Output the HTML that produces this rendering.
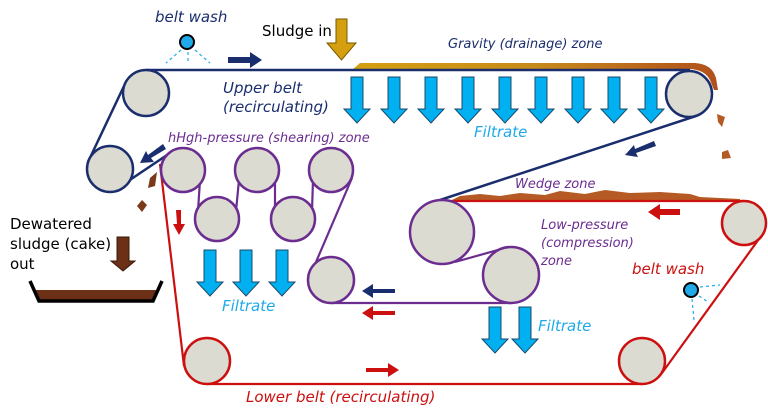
<!DOCTYPE html>
<html><head><meta charset="utf-8"><style>
html,body{margin:0;padding:0;background:#fff;}
svg{display:block}
text{font-family:"DejaVu Sans","Liberation Sans",sans-serif;}
.it{font-style:italic}
</style></head><body>
<svg width="768" height="416" viewBox="0 0 768 416" xmlns="http://www.w3.org/2000/svg">
<defs>
<linearGradient id="sl" x1="0" x2="1" y1="0" y2="0">
<stop offset="0" stop-color="#d4a010"/><stop offset="0.5" stop-color="#c88a1a"/><stop offset="1" stop-color="#b0501c"/>
</linearGradient>
<g id="fa"><path d="M-6,0 h12 v32 h7 l-13,14 l-13,-14 h7 z" fill="#00b0f0" stroke="#1a4a6a" stroke-width="1"/></g>
</defs>

<path d="M352,70 L360,63 L695,63 Q712,64 716,78 L718,90 L714,90 L710,80 Q705,70 690,69 Z" fill="url(#sl)"/>
<path d="M450,201 L460,196 L480,194 L500,196 L520,193 L545,195 L560,191 L585,194 L605,190 L630,193 L660,192 L690,194 L700,197 L740,199 L740,201 Z" fill="#b55a24"/>
<path d="M717,114 L725,117 L722,127 L718,122 Z" fill="#b55a24"/>
<path d="M722,152 L728,150 L731,158 L722,159 Z" fill="#b55a24"/>
<path d="M150,178 L157,172 L155,186 L148,188 Z" fill="#7a3a1a"/>
<path d="M142,200 L147,205 L142,212 L137,206 Z" fill="#7a3a1a"/>

<g fill="none" stroke="#1a2e6e" stroke-width="2.5">
<line x1="146" y1="70" x2="690" y2="70"/>
<line x1="124" y1="86" x2="88" y2="162"/>
<line x1="112" y1="192" x2="170" y2="153"/>
<line x1="696" y1="116" x2="440" y2="200"/>
</g>
<g fill="none" stroke="#cc1010" stroke-width="2.2">
<line x1="160" y1="164" x2="184" y2="366"/>
<line x1="207" y1="384" x2="642" y2="384"/>
<line x1="662" y1="373" x2="764" y2="232"/>
<line x1="744" y1="201" x2="442" y2="201"/>
</g>
<g fill="none" stroke="#6b2d8f" stroke-width="2.2">
<line x1="200" y1="180" x2="198" y2="211"/>
<line x1="236" y1="211" x2="239" y2="180"/>
<line x1="275" y1="180" x2="275" y2="211"/>
<line x1="312" y1="211" x2="313" y2="180"/>
<line x1="352" y1="178" x2="310" y2="276"/>
<line x1="331" y1="303" x2="511" y2="303"/>
<line x1="455" y1="262" x2="505" y2="248"/>
</g>

<g fill="#dcdbd2" stroke-width="2.5">
<circle cx="146" cy="93" r="23" stroke="#1a2e6e"/>
<circle cx="110" cy="169" r="23" stroke="#1a2e6e"/>
<circle cx="689" cy="94" r="23" stroke="#1a2e6e"/>
<circle cx="183" cy="170" r="22" stroke="#6b2d8f"/>
<circle cx="257" cy="170" r="22" stroke="#6b2d8f"/>
<circle cx="331" cy="170" r="22" stroke="#6b2d8f"/>
<circle cx="217" cy="219" r="22" stroke="#6b2d8f"/>
<circle cx="293" cy="219" r="22" stroke="#6b2d8f"/>
<circle cx="331" cy="280" r="23" stroke="#6b2d8f"/>
<circle cx="442" cy="232" r="32" stroke="#6b2d8f"/>
<circle cx="511" cy="275" r="28" stroke="#6b2d8f"/>
<circle cx="744" cy="223" r="22" stroke="#cc1010"/>
<circle cx="642" cy="361" r="23" stroke="#cc1010"/>
<circle cx="207" cy="361" r="23" stroke="#cc1010"/>
</g>

<g>
<use href="#fa" x="357" y="77"/><use href="#fa" x="394" y="77"/><use href="#fa" x="431" y="77"/>
<use href="#fa" x="468" y="77"/><use href="#fa" x="505" y="77"/><use href="#fa" x="541" y="77"/>
<use href="#fa" x="578" y="77"/><use href="#fa" x="614" y="77"/><use href="#fa" x="651" y="77"/>
<use href="#fa" x="210" y="250"/><use href="#fa" x="246" y="250"/><use href="#fa" x="282" y="250"/>
<use href="#fa" x="495" y="307"/><use href="#fa" x="525" y="307"/>
</g>

<circle cx="187" cy="42" r="7" fill="#1fa9e8" stroke="#000" stroke-width="2"/>
<g stroke="#1fa9e8" stroke-width="1.2" stroke-dasharray="3,3" fill="none">
<line x1="181" y1="50" x2="166" y2="63"/><line x1="188" y1="52" x2="188" y2="63"/><line x1="195" y1="50" x2="210" y2="63"/>
</g>
<text x="155" y="22" font-size="15" fill="#1a2e6e" class="it">belt wash</text>
<circle cx="691" cy="290" r="7" fill="#1fa9e8" stroke="#000" stroke-width="2"/>
<g stroke="#1fa9e8" stroke-width="1.2" stroke-dasharray="3,3" fill="none">
<line x1="700" y1="287" x2="720" y2="285"/><line x1="699" y1="296" x2="708" y2="302"/><line x1="692" y1="299" x2="694" y2="320"/>
</g>
<text x="632" y="274" font-size="15" fill="#cc1010" class="it">belt wash</text>

<text x="262" y="36" font-size="15" fill="#000">Sludge in</text>
<path d="M336,19 h11 v24 h9 l-14.5,17 l-14.5,-17 h9 z" fill="#d4a010" stroke="#7a5a00" stroke-width="1"/>

<g fill="#1a2e6e">
<path d="M228,57 h22 v-5 l12,8 l-12,8 v-5 h-22 z"/>
<path d="M163,144 l3,5 l-15,9 l3,4 l-14,1 l6,-12 l2,4 z"/>
<path d="M654,141 l2,5 l-20,7 l2,4 l-13,-2 l9,-10 l1,4 z"/>
<path d="M395,289 h-22 v-5 l-11,7 l11,7 v-5 h22 z"/>
</g>
<g fill="#cc1010">
<path d="M680,209 h-20 v-5 l-12,8 l12,8 v-5 h20 z"/>
<path d="M395,311 h-22 v-5 l-11,7 l11,7 v-5 h22 z"/>
<path d="M366,368 h22 v-5 l11,7 l-11,7 v-5 h-22 z"/>
<path d="M176,210 h5 v14 h4 l-6,11 l-6,-11 h4 z"/>
</g>

<text x="10" y="229" font-size="15" fill="#000">Dewatered</text>
<text x="10" y="249" font-size="15" fill="#000">sludge (cake)</text>
<text x="10" y="269" font-size="15" fill="#000">out</text>
<path d="M117,237 h12 v24 h6 l-12,10 l-12,-10 h6 z" fill="#6b3015" stroke="#3a1a0a" stroke-width="1"/>
<path d="M36,290 L38,302 L152,302 L156,290 Z" fill="#6b3015"/>
<path d="M30,281 L39,301 L153,301 L162,281" fill="none" stroke="#000" stroke-width="3.5"/>

<text x="448" y="48" font-size="13" fill="#1a2e6e" class="it">Gravity (drainage) zone</text>
<text x="223" y="93" font-size="15" fill="#1a2e6e" class="it">Upper belt</text>
<text x="223" y="112" font-size="15" fill="#1a2e6e" class="it">(recirculating)</text>
<text x="474" y="137" font-size="15" fill="#1fa9e8" class="it">Filtrate</text>
<text x="168" y="142" font-size="13" fill="#6b2d8f" class="it">hHgh-pressure (shearing) zone</text>
<text x="515" y="188" font-size="13" fill="#6b2d8f" class="it">Wedge zone</text>
<text x="541" y="229" font-size="13" fill="#6b2d8f" class="it">Low-pressure</text>
<text x="541" y="247" font-size="13" fill="#6b2d8f" class="it">(compression)</text>
<text x="541" y="265" font-size="13" fill="#6b2d8f" class="it">zone</text>
<text x="222" y="311" font-size="15" fill="#1fa9e8" class="it">Filtrate</text>
<text x="538" y="331" font-size="15" fill="#1fa9e8" class="it">Filtrate</text>
<text x="246" y="402" font-size="15" fill="#cc1010" class="it">Lower belt (recirculating)</text>
</svg>
</body></html>
